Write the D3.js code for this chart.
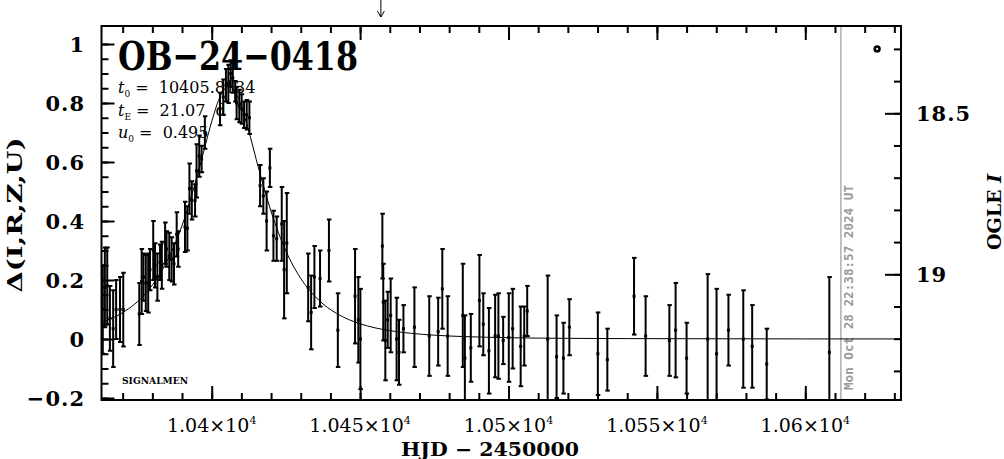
<!DOCTYPE html>
<html><head><meta charset="utf-8">
<script src="https://cdn.jsdelivr.net/npm/d3@7"></script>
<style>body{margin:0;background:#fff} svg{display:block}</style>
</head><body><svg id="c" width="1004" height="459"></svg>
<script>
// ---------- data ----------
const hjd = [10363.3,10364.0,10364.8,10365.7,10366.8,10367.8,10369.1,10370.2,10375.6,10376.4,10377.0,10377.8,10378.6,10379.2,10380.3,10380.9,10381.7,10382.6,10383.2,10384.3,10384.8,10385.7,10386.5,10387.3,10388.2,10388.7,10391.0,10391.8,10392.5,10393.3,10394.4,10394.9,10395.8,10396.6,10397.7,10402.8,10403.9,10404.8,10405.6,10406.4,10407.1,10407.9,10408.4,10409.3,10410.1,10410.9,10411.8,10412.7,10416.3,10417.4,10418.5,10419.6,10420.8,10421.9,10423.6,10424.4,10425.3,10432.5,10433.5,10434.6,10436.5,10439.5,10442.5,10448.3,10449.4,10450.1,10457.5,10457.8,10458.5,10459.3,10460.3,10462.3,10463.1,10464.6,10468.3,10473.3,10476.3,10477.7,10479.5,10484.6,10485.3,10487.3,10490.2,10491.5,10493.4,10495.5,10496.6,10498.2,10500.1,10501.4,10504.1,10505.3,10506.3,10513.2,10516.2,10518.5,10520.5,10530.1,10533.3,10542.3,10546.2,10554.2,10556.3,10560.0,10567.1,10570.1,10574.1,10579.1,10582.1,10587.0,10608.1];
const delta = [0.10,0.175,0.18,0.07,0.035,0.10,0.10,0.10,0.085,0.195,0.21,0.19,0.19,0.235,0.30,0.25,0.21,0.26,0.25,0.325,0.305,0.28,0.27,0.255,0.355,0.305,0.38,0.375,0.51,0.47,0.47,0.57,0.62,0.61,0.70,0.78,0.82,0.86,0.865,0.90,0.885,0.84,0.80,0.79,0.78,0.76,0.76,0.75,0.52,0.485,0.40,0.58,0.35,0.34,0.39,0.235,0.325,0.175,0.09,0.21,0.205,0.30,0.03,0.145,0.065,0.0,0.315,0.125,-0.005,0.065,0.08,0.0,-0.045,0.035,0.04,0.01,0.025,0.17,0.01,0.08,-0.065,-0.03,0.13,0.05,-0.04,0.01,0.01,-0.005,0.005,0.035,-0.025,0.01,0.095,0.0,-0.06,-0.065,0.04,-0.05,-0.07,0.145,0.01,-0.005,0.03,-0.065,0.0,-0.05,0.03,0.0,-0.025,-0.085,-0.045];
const err = [0.15,0.135,0.13,0.11,0.13,0.10,0.11,0.125,0.105,0.11,0.08,0.095,0.10,0.07,0.10,0.075,0.08,0.06,0.08,0.07,0.06,0.08,0.075,0.07,0.075,0.06,0.085,0.075,0.085,0.065,0.055,0.09,0.07,0.045,0.055,0.055,0.06,0.055,0.065,0.045,0.05,0.035,0.055,0.055,0.05,0.045,0.05,0.055,0.07,0.06,0.10,0.065,0.085,0.075,0.125,0.165,0.17,0.115,0.125,0.105,0.095,0.105,0.125,0.16,0.145,0.17,0.11,0.13,0.135,0.095,0.125,0.14,0.11,0.08,0.135,0.135,0.115,0.135,0.135,0.175,0.145,0.115,0.155,0.105,0.145,0.14,0.145,0.08,0.15,0.135,0.135,0.10,0.085,0.215,0.14,0.12,0.095,0.14,0.105,0.13,0.135,0.12,0.16,0.12,0.22,0.22,0.12,0.165,0.14,0.12,0.255];
// model light curve (PSPL, t0=10405.8134, tE=21.07, u0=0.495), sampled
const modelT = [10362,10366,10370,10378,10382,10385,10390,10395,10398,10400,10403,10405.8,10409,10412,10416,10420,10425,10430,10433,10436,10442,10446,10450,10455,10460,10467,10475,10485,10500,10520,10540,10600,10633];
const modelD = [0.0529,0.0684,0.0894,0.1575,0.2115,0.2647,0.3845,0.5487,0.6626,0.7369,0.8252,0.8567,0.8160,0.7225,0.5710,0.4323,0.2985,0.2053,0.1645,0.1324,0.0870,0.0666,0.0515,0.0379,0.0284,0.0194,0.0129,0.0082,0.0044,0.0022,0.0013,0.0003,0.0002];
const xMajor = [10400,10450,10500,10550,10600];
const xMajorLabels = ["1.04","1.045","1.05","1.055","1.06"];
const yMajor = [-0.2,0,0.2,0.4,0.6,0.8,1];
const yMajorLabels = ["\u22120.2","0","0.2","0.4","0.6","0.8","1"];
const magMajor = [18.5,19];
const magMajorLabels = ["18.5","19"];
const nowHJD = 10612;          // date of plot (gray line)
const arrowHJD = 10457;        // marker arrow above plot
const ogleMarker = [10624.2, 18.3];
const titleText = "OB\u221224\u22120418";
const params = [["t","0","=  10405.8134"],["t","E","=  21.07  d"],["u","0","=  0.495"]];
const stampText = "Mon Oct 28 22:38:57 2024 UT";

// ---------- layout ----------
const L=101.5, R=901, T=26, B=400;
const x = d3.scaleLinear().domain([10400,10550]).range([211.7,656.9]);
x.domain([x.invert(L), x.invert(R)]).range([L,R]);
const y = d3.scaleLinear().domain([-0.2,1]).range([398,44]);
y.domain([y.invert(B), y.invert(T)]).range([B,T]);
const m = d3.scaleLinear().domain([18.5,19]).range([113.3,274.3]);

const svg = d3.select("#c");
const serif = "'DejaVu Serif', serif";
svg.append("rect").attr("width",1004).attr("height",459).attr("fill","#fff");

svg.append("clipPath").attr("id","clip").append("rect")
  .attr("x",L).attr("y",T).attr("width",R-L).attr("height",B-T);

// gray "now" line
svg.append("line").attr("x1",x(nowHJD)).attr("x2",x(nowHJD)).attr("y1",T).attr("y2",B)
  .attr("stroke","#999").attr("stroke-width",1.2);
svg.append("text").attr("transform",`translate(${x(nowHJD)+12.5},390) rotate(-90)`)
  .attr("font-family","'DejaVu Sans Mono', monospace").attr("font-weight","bold")
  .attr("font-size",12.5).attr("fill","#999").attr("textLength",205).attr("lengthAdjust","spacingAndGlyphs")
  .text(stampText);

// ---------- model ----------
const plot = svg.append("g").attr("clip-path","url(#clip)");
plot.append("path").datum(modelT.map((t,i)=>[t,modelD[i]]))
  .attr("d", d3.line().x(d=>x(d[0])).y(d=>y(d[1])).curve(d3.curveMonotoneX))
  .attr("fill","none").attr("stroke","#000").attr("stroke-width",1);

// ---------- data ----------
const pts = hjd.map((t,i)=>({t, d:delta[i], e:err[i]}));
const eb = plot.selectAll("g.eb").data(pts).join("g").attr("class","eb");
eb.append("line").attr("x1",d=>x(d.t)).attr("x2",d=>x(d.t))
  .attr("y1",d=>y(d.d+d.e)).attr("y2",d=>y(d.d-d.e)).attr("stroke","#000").attr("stroke-width",2);
[1,-1].forEach(s=>{
  eb.append("line").attr("x1",d=>x(d.t)-2).attr("x2",d=>x(d.t)+2.5)
    .attr("y1",d=>y(d.d+s*d.e)).attr("y2",d=>y(d.d+s*d.e)).attr("stroke","#000").attr("stroke-width",2);
});
eb.append("rect").attr("x",d=>x(d.t)-1.5).attr("y",d=>y(d.d)-1.5).attr("width",3).attr("height",3).attr("fill","#000");

// ---------- axes ----------
function clean(g){ g.select(".domain").remove(); g.selectAll(".tick line").attr("stroke-width",2); }
const xMinor = d3.range(10370,10631,10);
svg.append("g").attr("transform",`translate(0,${B})`).call(d3.axisBottom(x).tickValues(xMinor).tickSize(-7).tickFormat("")).call(clean);
svg.append("g").attr("transform",`translate(0,${B})`).call(d3.axisBottom(x).tickValues(xMajor).tickSize(-14).tickFormat("")).call(clean);
svg.append("g").attr("transform",`translate(0,${T})`).call(d3.axisTop(x).tickValues(xMinor).tickSize(-7).tickFormat("")).call(clean);
svg.append("g").attr("transform",`translate(0,${T})`).call(d3.axisTop(x).tickValues(xMajor).tickSize(-14).tickFormat("")).call(clean);
const yMinor = d3.range(-4,21).map(k=>k*0.05);
svg.append("g").attr("transform",`translate(${L},0)`).call(d3.axisLeft(y).tickValues(yMinor).tickSize(-7).tickFormat("")).call(clean);
svg.append("g").attr("transform",`translate(${L},0)`).call(d3.axisLeft(y).tickValues(yMajor).tickSize(-13).tickFormat("")).call(clean);
const mMinor = d3.range(183,194).map(k=>k/10);
svg.append("g").attr("transform",`translate(${R},0)`).call(d3.axisRight(m).tickValues(mMinor).tickSize(-7).tickFormat("")).call(clean);
svg.append("g").attr("transform",`translate(${R},0)`).call(d3.axisRight(m).tickValues(magMajor).tickSize(-16).tickFormat("")).call(clean);

// frame
svg.append("rect").attr("x",L).attr("y",T).attr("width",R-L).attr("height",B-T)
  .attr("fill","none").attr("stroke","#000").attr("stroke-width",2);

// tick labels
const xl = svg.append("g").attr("font-family",serif).attr("font-size",19);
xMajor.forEach((v,i)=>{
  const t = xl.append("text").attr("x",x(v)).attr("y",432).attr("text-anchor","middle");
  t.append("tspan").text(xMajorLabels[i]+"\u00d710");
  t.append("tspan").attr("dy",-8).attr("font-size",11).text("4");
});
const yl = svg.append("g").attr("font-family",serif).attr("font-weight","bold").attr("font-size",21).attr("letter-spacing",1);
yMajor.forEach((v,i)=>{
  yl.append("text").attr("x",85).attr("y",y(v)).attr("dy","0.36em").attr("text-anchor","end").text(yMajorLabels[i]);
});
magMajor.forEach((v,i)=>{
  yl.append("text").attr("x",916).attr("y",m(v)).attr("dy","0.36em").attr("text-anchor","start").text(magMajorLabels[i]);
});

// axis titles
svg.append("text").attr("x",490).attr("y",456).attr("text-anchor","middle")
  .attr("font-family",serif).attr("font-weight","bold").attr("font-size",19)
  .attr("textLength",178).attr("lengthAdjust","spacingAndGlyphs").text("HJD \u2212 2450000");
svg.append("text").attr("transform","translate(22,215) rotate(-90)").attr("text-anchor","middle")
  .attr("font-family",serif).attr("font-weight","bold").attr("font-size",20)
  .attr("textLength",155).attr("lengthAdjust","spacingAndGlyphs").text("\u0394(I,R,Z,U)");
const og = svg.append("text").attr("transform","translate(1001,212) rotate(-90)").attr("text-anchor","middle")
  .attr("font-family",serif).attr("font-weight","bold").attr("font-size",19);
og.append("tspan").text("OGLE ");
og.append("tspan").attr("font-style","italic").text("I");

// title and parameters
svg.append("text").attr("x",118).attr("y",70).attr("font-family",serif).attr("font-weight","bold")
  .attr("font-size",40).attr("textLength",240).attr("lengthAdjust","spacingAndGlyphs").text(titleText);
params.forEach((p,i)=>{
  const t = svg.append("text").attr("x",118).attr("y",93+i*22.5).attr("font-family",serif).attr("font-size",16)
    .attr("xml:space","preserve").style("white-space","pre");
  t.append("tspan").attr("font-style","italic").text(p[0]);
  t.append("tspan").attr("dy",4).attr("font-size",9).text(p[1]);
  t.append("tspan").attr("dy",-4).attr("dx",5).text(p[2]);
});
svg.append("text").attr("x",122).attr("y",384).attr("font-family",serif).attr("font-weight","bold")
  .attr("font-size",9).attr("textLength",66).attr("lengthAdjust","spacingAndGlyphs").text("SIGNALMEN");

// markers
svg.append("circle").attr("cx",x(ogleMarker[0])).attr("cy",m(ogleMarker[1])).attr("r",2.4)
  .attr("fill","none").attr("stroke","#000").attr("stroke-width",2.6);
const ax = x(arrowHJD);
svg.append("path").attr("d",`M${ax},0V17M${ax-3.5},11L${ax},17L${ax+3.5},11`)
  .attr("fill","none").attr("stroke","#000").attr("stroke-width",1);
</script></body></html>
